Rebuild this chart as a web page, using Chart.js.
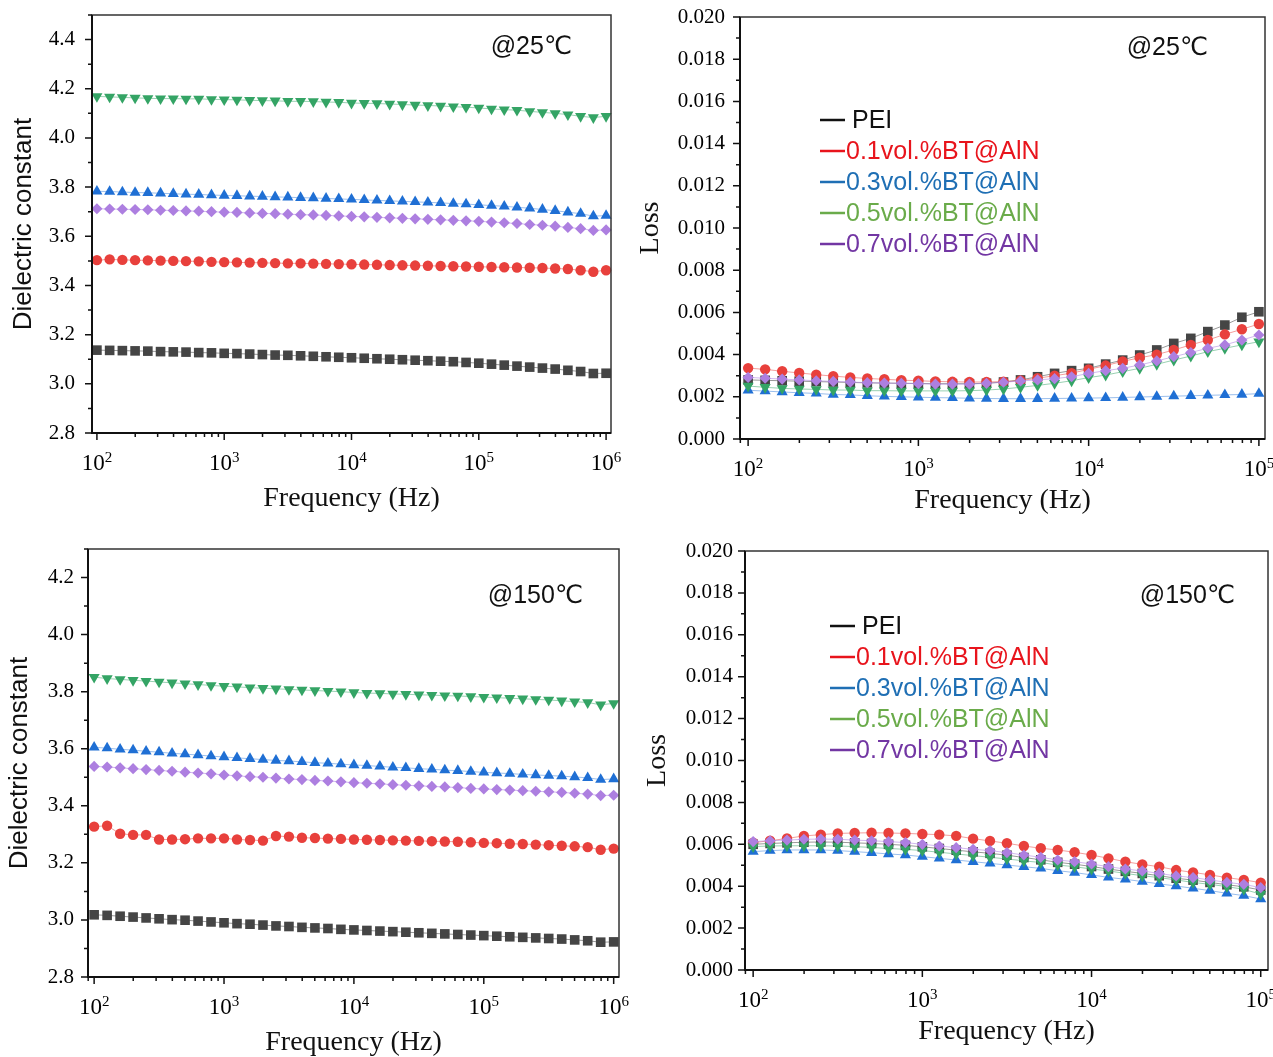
<!DOCTYPE html>
<html>
<head>
<meta charset="utf-8">
<title>Dielectric constant and loss</title>
<script src="https://cdn.jsdelivr.net/npm/chart.js@4.4.1/dist/chart.umd.min.js"></script>
<style>
  html, body { margin: 0; padding: 0; background: #fff; overflow: hidden; }
  body { width: 1273px; height: 1057px; position: relative; }
  canvas { position: absolute; }
</style>
</head>
<body>
<canvas id="dk25" width="640" height="520" style="left:0px;top:0px"></canvas>
<canvas id="loss25" width="653" height="520" style="left:630px;top:0px"></canvas>
<canvas id="dk150" width="640" height="540" style="left:0px;top:520px"></canvas>
<canvas id="loss150" width="653" height="540" style="left:630px;top:520px"></canvas>
<script>
// frequency points (Hz), 10 per decade
const freqDk = [
  100, 125.9, 158.5, 199.5, 251.2, 316.2, 398.1, 501.2, 631.0, 794.3,
  1000, 1259, 1585, 1995, 2512, 3162, 3981, 5012, 6310, 7943,
  10000, 12589, 15849, 19953, 25119, 31623, 39811, 50119, 63096, 79433,
  100000, 125893, 158489, 199526, 251189, 316228, 398107, 501187, 630957, 794328,
  1000000
];
const freqLoss = freqDk.slice(0, 31);

const seriesNames = ['PEI', '0.1vol.%BT@AlN', '0.3vol.%BT@AlN', '0.5vol.%BT@AlN', '0.7vol.%BT@AlN'];

// x tick labels: 10^n
const decadeValues = [100, 1000, 10000, 100000, 1000000];
const decadeBase = '10';
const decadeExponents = ['2', '3', '4', '5', '6'];

// dielectric constant @25C
const dk25Pei = [3.137, 3.136, 3.135, 3.134, 3.133, 3.131, 3.130, 3.129, 3.127, 3.126, 3.124,
  3.123, 3.121, 3.119, 3.117, 3.116, 3.114, 3.112, 3.110, 3.108, 3.106,
  3.104, 3.102, 3.100, 3.098, 3.096, 3.094, 3.092, 3.090, 3.087, 3.084,
  3.080, 3.076, 3.072, 3.068, 3.064, 3.060, 3.055, 3.050, 3.042, 3.043];
const dk25Bt01 = [3.503, 3.506, 3.504, 3.503, 3.502, 3.501, 3.500, 3.499, 3.498, 3.496, 3.495,
  3.494, 3.493, 3.492, 3.491, 3.490, 3.490, 3.489, 3.488, 3.487, 3.486,
  3.485, 3.484, 3.483, 3.482, 3.481, 3.480, 3.479, 3.478, 3.477, 3.476,
  3.475, 3.474, 3.473, 3.472, 3.471, 3.469, 3.467, 3.462, 3.456, 3.462];
const dk25Bt03 = [3.783, 3.782, 3.780, 3.778, 3.777, 3.775, 3.773, 3.771, 3.770, 3.768, 3.766,
  3.765, 3.763, 3.762, 3.760, 3.759, 3.757, 3.756, 3.754, 3.752, 3.750,
  3.748, 3.746, 3.744, 3.742, 3.740, 3.738, 3.736, 3.733, 3.731, 3.728,
  3.725, 3.722, 3.718, 3.714, 3.709, 3.704, 3.698, 3.692, 3.682, 3.684];
const dk25Bt05 = [4.169, 4.167, 4.165, 4.163, 4.161, 4.160, 4.160, 4.159, 4.159, 4.157, 4.156,
  4.155, 4.153, 4.152, 4.151, 4.149, 4.149, 4.148, 4.146, 4.145, 4.142,
  4.141, 4.140, 4.138, 4.136, 4.134, 4.132, 4.130, 4.127, 4.125, 4.122,
  4.118, 4.115, 4.113, 4.108, 4.104, 4.100, 4.095, 4.088, 4.083, 4.088];
const dk25Bt07 = [3.712, 3.711, 3.710, 3.709, 3.708, 3.706, 3.705, 3.703, 3.702, 3.700, 3.698,
  3.697, 3.695, 3.693, 3.692, 3.690, 3.688, 3.687, 3.685, 3.683, 3.681,
  3.679, 3.677, 3.675, 3.673, 3.671, 3.669, 3.667, 3.665, 3.663, 3.661,
  3.658, 3.655, 3.652, 3.648, 3.645, 3.641, 3.636, 3.631, 3.624, 3.626];

// dielectric constant @150C
const dk150Pei = [3.018, 3.016, 3.013, 3.010, 3.007, 3.004, 3.001, 2.999, 2.996, 2.993, 2.990,
  2.987, 2.985, 2.982, 2.979, 2.977, 2.974, 2.972, 2.970, 2.967, 2.965,
  2.963, 2.961, 2.959, 2.957, 2.955, 2.953, 2.951, 2.949, 2.947, 2.945,
  2.943, 2.941, 2.939, 2.937, 2.935, 2.933, 2.930, 2.927, 2.922, 2.923];
const dk150Bt01 = [3.327, 3.330, 3.302, 3.298, 3.298, 3.282, 3.282, 3.283, 3.286, 3.286, 3.286,
  3.282, 3.280, 3.278, 3.294, 3.292, 3.288, 3.287, 3.285, 3.284, 3.282,
  3.281, 3.280, 3.279, 3.278, 3.277, 3.276, 3.275, 3.274, 3.272, 3.270,
  3.269, 3.267, 3.266, 3.264, 3.262, 3.260, 3.258, 3.255, 3.246, 3.250];
const dk150Bt03 = [3.605, 3.602, 3.598, 3.595, 3.591, 3.588, 3.584, 3.581, 3.578, 3.574, 3.571,
  3.568, 3.565, 3.562, 3.559, 3.557, 3.554, 3.551, 3.549, 3.546, 3.543,
  3.541, 3.538, 3.535, 3.533, 3.530, 3.528, 3.525, 3.523, 3.520, 3.517,
  3.515, 3.513, 3.510, 3.508, 3.506, 3.504, 3.501, 3.498, 3.492, 3.494];
const dk150Bt05 = [3.851, 3.846, 3.843, 3.840, 3.837, 3.834, 3.831, 3.828, 3.825, 3.822, 3.819,
  3.817, 3.814, 3.812, 3.810, 3.808, 3.806, 3.804, 3.802, 3.800, 3.797,
  3.795, 3.794, 3.792, 3.791, 3.789, 3.788, 3.786, 3.785, 3.783, 3.781,
  3.779, 3.777, 3.775, 3.773, 3.771, 3.768, 3.765, 3.762, 3.754, 3.759];
const dk150Bt07 = [3.538, 3.536, 3.533, 3.530, 3.527, 3.524, 3.521, 3.518, 3.515, 3.512, 3.508,
  3.505, 3.502, 3.500, 3.497, 3.494, 3.492, 3.489, 3.487, 3.484, 3.481,
  3.479, 3.477, 3.474, 3.472, 3.470, 3.468, 3.466, 3.464, 3.461, 3.459,
  3.457, 3.455, 3.453, 3.451, 3.449, 3.447, 3.444, 3.441, 3.436, 3.437];

// loss @25C
const loss25Pei = [0.00280, 0.00278, 0.00276, 0.00274, 0.00272, 0.00270, 0.00268, 0.00266, 0.00265, 0.00264,
  0.00263, 0.00262, 0.00262, 0.00262, 0.00264, 0.00270, 0.00280, 0.00295, 0.00311, 0.00324,
  0.00335, 0.00355, 0.00374, 0.00398, 0.00422, 0.00453, 0.00477, 0.00509, 0.00540, 0.00577,
  0.00603];
const loss25Bt01 = [0.00336, 0.00330, 0.00321, 0.00313, 0.00305, 0.00298, 0.00292, 0.00287, 0.00283, 0.00279,
  0.00276, 0.00273, 0.00271, 0.00270, 0.00270, 0.00272, 0.00277, 0.00288, 0.00300, 0.00312,
  0.00330, 0.00348, 0.00368, 0.00385, 0.00400, 0.00422, 0.00446, 0.00469, 0.00496, 0.00520,
  0.00545];
const loss25Bt03 = [0.00231, 0.00227, 0.00223, 0.00219, 0.00216, 0.00211, 0.00209, 0.00205, 0.00202, 0.00200,
  0.00198, 0.00196, 0.00195, 0.00193, 0.00192, 0.00191, 0.00191, 0.00191, 0.00192, 0.00193,
  0.00194, 0.00195, 0.00197, 0.00199, 0.00201, 0.00203, 0.00205, 0.00207, 0.00209, 0.00211,
  0.00215];
const loss25Bt05 = [0.00251, 0.00245, 0.00240, 0.00237, 0.00235, 0.00232, 0.00232, 0.00229, 0.00229, 0.00228,
  0.00228, 0.00228, 0.00228, 0.00229, 0.00232, 0.00237, 0.00245, 0.00254, 0.00264, 0.00276,
  0.00291, 0.00303, 0.00319, 0.00335, 0.00354, 0.00374, 0.00393, 0.00414, 0.00430, 0.00446,
  0.00461];
const loss25Bt07 = [0.00292, 0.00288, 0.00284, 0.00280, 0.00276, 0.00273, 0.00270, 0.00267, 0.00265, 0.00264,
  0.00262, 0.00260, 0.00260, 0.00260, 0.00264, 0.00269, 0.00275, 0.00280, 0.00286, 0.00295,
  0.00311, 0.00324, 0.00335, 0.00351, 0.00370, 0.00390, 0.00410, 0.00430, 0.00446, 0.00469,
  0.00493];

// loss @150C
const loss150Pei = [0.00600, 0.00604, 0.00607, 0.00610, 0.00611, 0.00610, 0.00607, 0.00604, 0.00600, 0.00595,
  0.00588, 0.00580, 0.00572, 0.00564, 0.00557, 0.00548, 0.00537, 0.00526, 0.00514, 0.00505,
  0.00494, 0.00482, 0.00471, 0.00461, 0.00450, 0.00438, 0.00429, 0.00418, 0.00407, 0.00397,
  0.00382];
const loss150Bt01 = [0.00608, 0.00617, 0.00628, 0.00640, 0.00646, 0.00652, 0.00654, 0.00655, 0.00654, 0.00652,
  0.00649, 0.00646, 0.00640, 0.00627, 0.00616, 0.00605, 0.00592, 0.00581, 0.00573, 0.00562,
  0.00549, 0.00533, 0.00517, 0.00504, 0.00493, 0.00477, 0.00466, 0.00454, 0.00441, 0.00430,
  0.00417];
const loss150Bt03 = [0.00565, 0.00570, 0.00573, 0.00573, 0.00573, 0.00570, 0.00565, 0.00560, 0.00554, 0.00549,
  0.00541, 0.00533, 0.00525, 0.00517, 0.00509, 0.00501, 0.00493, 0.00485, 0.00474, 0.00465,
  0.00454, 0.00442, 0.00433, 0.00422, 0.00411, 0.00401, 0.00390, 0.00379, 0.00366, 0.00355,
  0.00339];
const loss150Bt05 = [0.00589, 0.00592, 0.00593, 0.00593, 0.00593, 0.00592, 0.00589, 0.00585, 0.00580, 0.00576,
  0.00570, 0.00562, 0.00554, 0.00546, 0.00538, 0.00530, 0.00521, 0.00513, 0.00501, 0.00493,
  0.00482, 0.00473, 0.00461, 0.00450, 0.00441, 0.00430, 0.00418, 0.00409, 0.00398, 0.00385,
  0.00362];
const loss150Bt07 = [0.00613, 0.00617, 0.00620, 0.00624, 0.00625, 0.00624, 0.00620, 0.00617, 0.00613, 0.00608,
  0.00600, 0.00592, 0.00584, 0.00576, 0.00570, 0.00560, 0.00549, 0.00538, 0.00525, 0.00517,
  0.00506, 0.00493, 0.00482, 0.00473, 0.00461, 0.00449, 0.00441, 0.00430, 0.00418, 0.00409,
  0.00393];

// styles
const markerColors = ['#454545', '#e8403c', '#1f6fd4', '#34a465', '#ad7fe0'];
const lineColors = ['rgba(69,69,69,0.55)', 'rgba(232,64,60,0.5)', 'rgba(31,111,212,0.45)',
  'rgba(52,164,101,0.5)', 'rgba(173,127,224,0.55)'];
const legendColors = ['#111111', '#e8141c', '#1f6fb4', '#6aab4a', '#7236a3'];
const pointStyles = ['rect', 'circle', 'triangle', 'triangle', 'rectRot'];
const pointRotations = [0, 0, 0, 180, 0];
const pointRadii = [6.8, 5.2, 6.4, 6.4, 5.6];

const SERIF = '"Liberation Serif", "DejaVu Serif", serif';
const SANS = '"Liberation Sans", Arial, "DejaVu Sans", sans-serif';

// box around the plot, outward tick marks and the 10^n labels
const framePlugin = {
  id: 'frame',
  afterDatasetsDraw(chart) {
    const { ctx, chartArea: a, scales } = chart;
    ctx.save();
    ctx.strokeStyle = '#333';
    ctx.lineWidth = 1.5;
    ctx.strokeRect(a.left, a.top, a.right - a.left, a.bottom - a.top);
    ctx.strokeStyle = '#111';
    ctx.lineWidth = 2;
    ctx.beginPath();
    ctx.moveTo(a.left, a.top);
    ctx.lineTo(a.left, a.bottom);
    ctx.lineTo(a.right, a.bottom);
    ctx.stroke();

    ctx.lineWidth = 1.5;
    ctx.beginPath();
    scales.x.ticks.forEach(t => {
      const len = decadeValues.includes(t.value) ? 7 : 4;
      const px = scales.x.getPixelForValue(t.value);
      ctx.moveTo(px, a.bottom);
      ctx.lineTo(px, a.bottom + len);
    });
    scales.y.ticks.forEach(t => {
      const len = t.label ? 7 : 4;
      const py = scales.y.getPixelForValue(t.value);
      ctx.moveTo(a.left, py);
      ctx.lineTo(a.left - len, py);
    });
    ctx.stroke();

    // decade labels with a raised exponent
    ctx.fillStyle = '#000';
    ctx.textBaseline = 'alphabetic';
    ctx.textAlign = 'left';
    decadeValues.forEach((v, i) => {
      if (v < scales.x.min || v > scales.x.max) return;
      const px = scales.x.getPixelForValue(v);
      ctx.font = '23px ' + SERIF;
      const wBase = ctx.measureText(decadeBase).width;
      ctx.font = '15px ' + SERIF;
      const wExp = ctx.measureText(decadeExponents[i]).width;
      const x0 = px - (wBase + wExp) / 2;
      const base = a.bottom + 37;
      ctx.font = '23px ' + SERIF;
      ctx.fillText(decadeBase, x0, base);
      ctx.font = '15px ' + SERIF;
      ctx.fillText(decadeExponents[i], x0 + wBase, base - 8);
    });
    ctx.restore();
  }
};

// "@25℃" style note in the top right corner
const notePlugin = {
  id: 'panelNote',
  afterDraw(chart, args, opts) {
    if (!opts || !opts.text) return;
    const { ctx, chartArea: a } = chart;
    ctx.save();
    ctx.font = '25px ' + SANS;
    ctx.fillStyle = '#111';
    ctx.textAlign = 'right';
    ctx.textBaseline = 'middle';
    ctx.fillText(opts.text, a.right - opts.dx, a.top + opts.dy);
    ctx.restore();
  }
};

// line-sample legend with coloured text, inside the plot
const lineLegendPlugin = {
  id: 'lineLegend',
  afterDraw(chart, args, opts) {
    if (!opts || !opts.display) return;
    const { ctx, chartArea: a } = chart;
    ctx.save();
    ctx.font = '25px ' + SANS;
    ctx.textAlign = 'left';
    ctx.textBaseline = 'middle';
    chart.data.datasets.forEach((ds, i) => {
      const x = a.left + opts.dx;
      const y = a.top + opts.dy + i * opts.rowGap;
      ctx.strokeStyle = legendColors[i];
      ctx.lineWidth = 2.5;
      ctx.beginPath();
      ctx.moveTo(x, y);
      ctx.lineTo(x + 25, y);
      ctx.stroke();
      ctx.fillStyle = legendColors[i];
      ctx.fillText(ds.label, x + (i === 0 ? 32 : 26), y + 1);
    });
    ctx.restore();
  }
};

function buildDatasets(xs, ys) {
  return ys.map((vals, k) => ({
    label: seriesNames[k],
    data: xs.map((x, i) => ({ x: x, y: vals[i] })),
    pointStyle: pointStyles[k],
    pointRotation: pointRotations[k],
    pointRadius: pointRadii[k],
    pointBackgroundColor: markerColors[k],
    pointBorderColor: markerColors[k],
    pointBorderWidth: 0,
    borderColor: lineColors[k],
    borderWidth: 1,
    fill: false,
    tension: 0,
    order: ys.length - k,
    clip: false
  }));
}

function logTicks(min, max) {
  const out = [];
  for (let n = 1; n <= 6; n++) {
    for (let k = 1; k <= 9; k++) {
      const v = Math.round(k * Math.pow(10, n));
      if (v >= min && v <= max) out.push({ value: v });
    }
  }
  return out;
}

function linTicks(min, max, step) {
  const out = [];
  for (let k = Math.round(min / step); k <= Math.round(max / step); k++) {
    out.push({ value: +(k * step).toFixed(6) });
  }
  return out;
}

function makeChart(id, cfg) {
  const isLoss = cfg.kind === 'loss';
  return new Chart(document.getElementById(id), {
    type: 'line',
    data: { datasets: buildDatasets(cfg.xs, cfg.ys) },
    plugins: [framePlugin, notePlugin, lineLegendPlugin],
    options: {
      responsive: false,
      animation: false,
      events: [],
      layout: { padding: cfg.padding },
      plugins: {
        legend: { display: false },
        tooltip: { enabled: false },
        panelNote: cfg.note,
        lineLegend: cfg.legend || { display: false }
      },
      scales: {
        x: {
          type: 'logarithmic',
          min: cfg.xMin,
          max: cfg.xMax,
          bounds: 'data',
          grid: { display: false, drawTicks: false },
          border: { display: false },
          afterBuildTicks: s => { s.ticks = logTicks(s.min, s.max); },
          afterFit: s => {
            s.height = cfg.xHeight;
            s.paddingLeft = 0;
            s.paddingRight = 0;
          },
          ticks: { display: false, autoSkip: false, maxRotation: 0 },
          title: {
            display: true,
            text: 'Frequency (Hz)',
            color: '#111',
            font: { family: SERIF, size: 28 },
            padding: { top: 0, bottom: cfg.xTitlePad }
          }
        },
        y: {
          min: cfg.yMin,
          max: cfg.yMax,
          grid: { display: false, drawTicks: false },
          border: { display: false },
          afterBuildTicks: s => { s.ticks = linTicks(cfg.yMin, cfg.yMax, cfg.yStep); },
          afterFit: s => {
            s.width = cfg.yWidth;
            s.paddingTop = 0;
            s.paddingBottom = 0;
          },
          ticks: {
            autoSkip: false,
            padding: cfg.yTickPad,
            color: '#000',
            font: { family: SERIF, size: 21 },
            callback: v => {
              const k = Math.round(v / cfg.yStep);
              return k % 2 === 0 ? v.toFixed(isLoss ? 3 : 1) : '';
            }
          },
          title: {
            display: true,
            text: isLoss ? 'Loss' : 'Dielectric constant',
            color: '#111',
            font: isLoss ? { family: SERIF, size: 28 } : { family: SANS, size: 26 },
            padding: { top: cfg.yTitlePad, bottom: 0 }
          }
        }
      }
    }
  });
}

makeChart('dk25', {
  kind: 'dk',
  xs: freqDk,
  ys: [dk25Pei, dk25Bt01, dk25Bt03, dk25Bt05, dk25Bt07],
  xMin: 91.5, xMax: 1.093e6,
  yMin: 2.8, yMax: 4.5, yStep: 0.1,
  padding: { left: 0, top: 15, right: 29, bottom: 0 },
  yWidth: 92, xHeight: 87,
  yTickPad: 17, xTitlePad: 5, yTitlePad: 8,
  note: { text: '@25\u2103', dx: 39, dy: 32 }
});

makeChart('loss25', {
  kind: 'loss',
  xs: freqLoss,
  ys: [loss25Pei, loss25Bt01, loss25Bt03, loss25Bt05, loss25Bt07],
  xMin: 89.6, xMax: 1.086e5,
  yMin: 0, yMax: 0.02, yStep: 0.001,
  padding: { left: 0, top: 17, right: 18, bottom: 0 },
  yWidth: 110, xHeight: 81,
  yTickPad: 15, xTitlePad: 3, yTitlePad: 4,
  note: { text: '@25\u2103', dx: 57, dy: 31 },
  legend: { display: true, dx: 80, dy: 103, rowGap: 31 }
});

makeChart('dk150', {
  kind: 'dk',
  xs: freqDk,
  ys: [dk150Pei, dk150Bt01, dk150Bt03, dk150Bt05, dk150Bt07],
  xMin: 89.7, xMax: 1.099e6,
  yMin: 2.8, yMax: 4.3, yStep: 0.1,
  padding: { left: 0, top: 29, right: 21, bottom: 0 },
  yWidth: 88, xHeight: 83,
  yTickPad: 14, xTitlePad: 1, yTitlePad: 4,
  note: { text: '@150\u2103', dx: 36, dy: 47 }
});

makeChart('loss150', {
  kind: 'loss',
  xs: freqLoss,
  ys: [loss150Pei, loss150Bt01, loss150Bt03, loss150Bt05, loss150Bt07],
  xMin: 89.5, xMax: 1.104e5,
  yMin: 0, yMax: 0.02, yStep: 0.001,
  padding: { left: 0, top: 31, right: 15, bottom: 0 },
  yWidth: 115, xHeight: 90,
  yTickPad: 12, xTitlePad: 12, yTitlePad: 11,
  note: { text: '@150\u2103', dx: 33, dy: 45 },
  legend: { display: true, dx: 85, dy: 75, rowGap: 31 }
});
</script>
</body>
</html>
